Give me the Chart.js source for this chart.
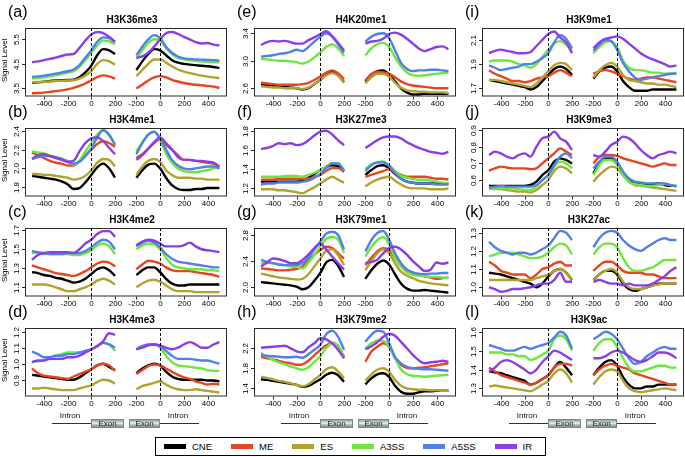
<!DOCTYPE html>
<html>
<head>
<meta charset="utf-8">
<script src="https://cdn.jsdelivr.net/npm/chart.js@4.4.0/dist/chart.umd.min.js"></script>
<style>
  body { margin: 0; background: #fff; font-family: "Liberation Sans", Arial, sans-serif; }
  #page { position: relative; width: 685px; height: 457px; overflow: hidden; }
  #page canvas { position: absolute; }
  .gline { position: absolute; height: 1px; background: #333; }
  .gtext { position: absolute; font-size: 8px; color: #111; text-align: center; }
  .exon { position: absolute; height: 9px; border: 1px solid #7a8888; box-sizing: border-box;
          background: linear-gradient(#8d9c9c, #e9f0f0 45%, #b6c4c4 65%, #7f8f8f);
          font-size: 8px; line-height: 8px; text-align: center; color: #222; }
  #legend { position: absolute; left: 155px; top: 437px; width: 391px; height: 19px;
            border: 1px solid #000; box-sizing: border-box; display: flex; align-items: center;
            padding-left: 8px; font-size: 9.5px; }
  .litem { display: flex; align-items: center; margin-right: 19px; }
  .lline { width: 22px; height: 5px; margin-right: 6px; }
</style>
</head>
<body>
<div id="page">
  <div id="legend"></div>
</div>
<script>

// Series

const seriesNames = ['CNE', 'ME', 'ES', 'A3SS', 'A5SS', 'IR'];
const seriesColors = ['#000000', '#e8441f', '#b3a32c', '#6be83c', '#5080ea', '#8b3ee8'];

// positions relative to the splice site (intron->exon on the left, exon->intron on the right)
const xLeft = [-500, -450, -400, -350, -300, -250, -200, -150, -100, -50, 0, 50, 100, 150, 200];
const xRight = [-200, -150, -100, -50, 0, 50, 100, 150, 200, 250, 300, 350, 400, 450, 500];
const xTicksLeft = [-400, -200, 0, 200];
const xTicksRight = [-200, 0, 200, 400];

const panelLabels = ['(a)', '(b)', '(c)', '(d)', '(e)', '(f)', '(g)', '(h)', '(i)', '(j)', '(k)', '(l)'];
const panelTitles = ['H3K36me3', 'H3K4me1', 'H3K4me2', 'H3K4me3', 'H4K20me1', 'H3K27me3',
                     'H3K79me1', 'H3K79me2', 'H3K9me1', 'H3K9me3', 'H3K27ac', 'H3K9ac'];
const yTicks = [
  [3.5, 4.5, 5.5], [1.8, 2.0, 2.2, 2.4], [1.1, 1.3, 1.5, 1.7], [0.9, 1.0, 1.1, 1.2],
  [2.6, 3.0, 3.4], [1.2, 1.4, 1.6, 1.8], [2.0, 2.4, 2.8], [1.4, 1.8, 2.2],
  [1.7, 1.9, 2.1], [0.6, 0.7, 0.8, 0.9], [1.0, 1.1, 1.2, 1.3], [1.3, 1.4, 1.5, 1.6]
];
const yMin = [3.17, 1.70, 1.004, 0.795, 2.48, 1.115, 1.86, 1.236, 1.632, 0.501, 0.949, 1.257];
const yMax = [5.96, 2.43, 1.723, 1.223, 3.477, 1.828, 2.907, 2.606, 2.199, 0.912, 1.326, 1.62];

// Signal level, rows in seriesNames order: 15 values on xLeft then 15 values on xRight

const H3K36me3 = [
  [3.73,3.75,3.77,3.8,3.82,3.83,3.84,3.86,3.95,4.15,4.43,4.85,5.1,5.05,4.9, 4.25,4.6,4.9,5.1,5.05,4.85,4.65,4.55,4.5,4.47,4.45,4.42,4.4,4.37,4.33],
  [3.3,3.31,3.33,3.36,3.39,3.42,3.46,3.52,3.6,3.7,3.83,3.96,4.03,3.99,3.9, 3.5,3.65,3.82,3.95,4.0,3.95,3.85,3.78,3.72,3.68,3.65,3.63,3.6,3.57,3.52],
  [3.75,3.76,3.77,3.78,3.8,3.81,3.82,3.83,3.9,4.02,4.2,4.5,4.65,4.6,4.47, 4.0,4.25,4.5,4.68,4.68,4.55,4.4,4.27,4.18,4.12,4.07,4.02,3.98,3.95,3.92],
  [3.9,3.92,3.95,3.99,4.03,4.08,4.14,4.2,4.38,4.65,4.95,5.25,5.45,5.42,5.3, 4.7,5.05,5.35,5.5,5.45,5.15,4.9,4.75,4.68,4.65,4.62,4.6,4.58,4.57,4.56],
  [3.97,3.99,4.02,4.06,4.1,4.15,4.2,4.27,4.45,4.75,5.05,5.4,5.58,5.55,5.4, 4.85,5.2,5.5,5.67,5.55,5.2,4.95,4.8,4.72,4.7,4.68,4.67,4.66,4.65,4.63],
  [4.57,4.6,4.65,4.7,4.75,4.82,4.88,4.9,5.15,5.45,5.7,5.8,5.75,5.6,5.4, 4.75,4.8,4.95,5.2,5.5,5.75,5.8,5.72,5.6,5.5,5.38,5.33,5.35,5.28,5.25]
];
const H3K4me1 = [
  [1.92,1.91,1.9,1.89,1.88,1.86,1.83,1.78,1.79,1.85,1.93,2.01,2.05,2.0,1.9, 1.9,1.98,2.04,2.05,2.0,1.9,1.82,1.78,1.77,1.77,1.78,1.78,1.79,1.79,1.79],
  [2.17,2.14,2.11,2.08,2.06,2.05,2.03,2.03,2.08,2.14,2.2,2.26,2.29,2.27,2.23, 2.11,2.15,2.21,2.27,2.31,2.25,2.2,2.14,2.09,2.09,2.08,2.07,2.06,2.05,2.02],
  [1.94,1.94,1.93,1.93,1.92,1.91,1.9,1.88,1.89,1.92,1.98,2.06,2.1,2.09,2.02, 1.93,2.02,2.08,2.1,2.07,1.98,1.93,1.9,1.9,1.9,1.89,1.89,1.88,1.88,1.88],
  [2.18,2.17,2.16,2.14,2.12,2.1,2.08,2.04,2.08,2.18,2.27,2.36,2.4,2.35,2.25, 2.18,2.28,2.36,2.39,2.3,2.16,2.06,2.0,1.97,1.96,1.96,1.97,1.98,2.0,2.01],
  [2.1,2.12,2.13,2.13,2.12,2.1,2.07,2.05,2.07,2.13,2.21,2.33,2.41,2.36,2.25, 2.15,2.27,2.36,2.39,2.32,2.2,2.09,2.03,2.0,1.99,2.0,2.01,2.02,2.02,2.0],
  [2.1,2.14,2.15,2.13,2.11,2.09,2.07,2.08,2.18,2.27,2.32,2.33,2.29,2.22,2.15, 2.09,2.14,2.21,2.28,2.33,2.27,2.2,2.12,2.09,2.09,2.08,2.08,2.07,2.06,2.02]
];
const H3K4me2 = [
  [1.26,1.25,1.23,1.22,1.2,1.19,1.17,1.15,1.16,1.19,1.24,1.29,1.31,1.28,1.22, 1.23,1.28,1.31,1.31,1.26,1.19,1.14,1.12,1.12,1.13,1.13,1.13,1.13,1.13,1.13],
  [1.33,1.31,1.29,1.27,1.25,1.24,1.23,1.22,1.24,1.27,1.31,1.35,1.37,1.36,1.32, 1.29,1.34,1.38,1.37,1.35,1.31,1.28,1.27,1.27,1.27,1.26,1.25,1.24,1.23,1.21],
  [1.13,1.13,1.13,1.12,1.1,1.08,1.06,1.06,1.08,1.1,1.13,1.17,1.19,1.17,1.13, 1.1,1.14,1.17,1.18,1.16,1.12,1.08,1.06,1.06,1.06,1.05,1.05,1.05,1.05,1.05],
  [1.46,1.46,1.45,1.45,1.45,1.45,1.45,1.44,1.44,1.46,1.49,1.54,1.56,1.53,1.45, 1.5,1.54,1.56,1.55,1.5,1.41,1.34,1.31,1.3,1.29,1.29,1.29,1.28,1.28,1.27],
  [1.48,1.47,1.46,1.45,1.45,1.45,1.46,1.46,1.46,1.48,1.52,1.57,1.6,1.58,1.5, 1.53,1.57,1.59,1.57,1.52,1.45,1.4,1.37,1.36,1.35,1.34,1.33,1.32,1.31,1.31],
  [1.39,1.44,1.46,1.47,1.47,1.47,1.47,1.46,1.5,1.56,1.6,1.66,1.69,1.69,1.63, 1.54,1.58,1.6,1.59,1.56,1.53,1.53,1.53,1.54,1.57,1.53,1.5,1.49,1.48,1.47]
];
const H3K4me3 = [
  [0.93,0.925,0.92,0.915,0.91,0.905,0.9,0.9,0.915,0.94,0.965,0.99,1.0,0.98,0.96, 0.94,0.97,0.99,1.0,0.99,0.95,0.92,0.905,0.9,0.9,0.9,0.9,0.895,0.895,0.89],
  [0.97,0.94,0.925,0.92,0.915,0.91,0.905,0.92,0.935,0.95,0.965,0.99,1.0,0.99,0.955, 0.935,0.96,0.985,0.995,0.99,0.97,0.95,0.93,0.915,0.905,0.89,0.88,0.87,0.875,0.87],
  [0.845,0.845,0.85,0.845,0.84,0.835,0.835,0.835,0.845,0.855,0.865,0.885,0.9,0.895,0.875, 0.84,0.86,0.87,0.88,0.89,0.87,0.85,0.84,0.835,0.835,0.84,0.835,0.83,0.825,0.82],
  [1.01,1.015,1.02,1.04,1.05,1.06,1.07,1.07,1.07,1.08,1.09,1.11,1.13,1.12,1.08, 1.09,1.11,1.12,1.12,1.1,1.05,1.01,0.99,0.985,0.98,0.975,0.97,0.96,0.955,0.955],
  [1.075,1.06,1.04,1.04,1.05,1.05,1.06,1.06,1.07,1.08,1.09,1.11,1.13,1.12,1.1, 1.09,1.11,1.12,1.12,1.11,1.08,1.05,1.03,1.03,1.03,1.025,1.02,1.02,1.01,1.0],
  [1.01,1.02,1.02,1.03,1.03,1.03,1.04,1.04,1.05,1.07,1.09,1.11,1.14,1.19,1.18, 1.09,1.1,1.115,1.12,1.115,1.1,1.09,1.1,1.12,1.135,1.12,1.1,1.1,1.12,1.135]
];
const H4K20me1 = [
  [2.65,2.65,2.64,2.63,2.62,2.61,2.6,2.58,2.6,2.66,2.72,2.8,2.84,2.79,2.69, 2.7,2.8,2.85,2.86,2.8,2.7,2.6,2.54,2.51,2.51,2.52,2.52,2.52,2.52,2.52],
  [2.68,2.67,2.66,2.65,2.65,2.65,2.65,2.66,2.68,2.72,2.77,2.83,2.86,2.82,2.73, 2.72,2.8,2.84,2.83,2.81,2.76,2.7,2.66,2.64,2.63,2.62,2.61,2.6,2.6,2.6],
  [2.63,2.62,2.61,2.61,2.6,2.6,2.6,2.59,2.61,2.66,2.72,2.79,2.82,2.78,2.68, 2.67,2.76,2.81,2.81,2.77,2.68,2.61,2.57,2.56,2.55,2.55,2.54,2.54,2.54,2.53],
  [3.03,3.02,3.01,3.0,3.0,2.99,2.98,2.96,2.99,3.05,3.12,3.2,3.24,3.18,3.07, 3.08,3.18,3.24,3.26,3.2,3.05,2.92,2.83,2.79,2.78,2.79,2.8,2.81,2.82,2.83],
  [3.06,3.07,3.08,3.1,3.11,3.13,3.16,3.14,3.2,3.28,3.35,3.4,3.35,3.24,3.12, 3.28,3.35,3.39,3.4,3.33,3.15,2.97,2.88,2.85,2.86,2.86,2.87,2.87,2.86,2.85],
  [3.23,3.27,3.29,3.28,3.29,3.27,3.25,3.25,3.3,3.34,3.39,3.43,3.36,3.26,3.15, 3.25,3.28,3.29,3.32,3.39,3.41,3.38,3.32,3.25,3.18,3.14,3.17,3.2,3.21,3.17]
];
const H3K27me3 = [
  [1.27,1.27,1.27,1.27,1.27,1.27,1.27,1.28,1.31,1.35,1.39,1.42,1.44,1.43,1.38, 1.34,1.39,1.43,1.44,1.41,1.35,1.3,1.27,1.26,1.25,1.25,1.25,1.25,1.25,1.25],
  [1.29,1.29,1.29,1.3,1.3,1.3,1.3,1.3,1.3,1.32,1.34,1.38,1.41,1.41,1.37, 1.32,1.34,1.36,1.38,1.4,1.37,1.34,1.32,1.32,1.32,1.32,1.31,1.3,1.3,1.29],
  [1.19,1.19,1.19,1.18,1.18,1.17,1.16,1.15,1.18,1.21,1.25,1.29,1.32,1.29,1.26, 1.22,1.26,1.29,1.31,1.32,1.28,1.24,1.21,1.2,1.2,1.2,1.19,1.19,1.19,1.2],
  [1.32,1.32,1.32,1.32,1.33,1.33,1.33,1.32,1.34,1.36,1.39,1.43,1.46,1.46,1.39, 1.4,1.45,1.47,1.48,1.44,1.38,1.33,1.31,1.3,1.29,1.29,1.28,1.27,1.26,1.25],
  [1.24,1.25,1.25,1.26,1.26,1.26,1.26,1.27,1.28,1.31,1.35,1.41,1.46,1.46,1.38, 1.38,1.44,1.47,1.47,1.43,1.36,1.3,1.27,1.26,1.25,1.25,1.25,1.24,1.24,1.24],
  [1.61,1.62,1.64,1.67,1.66,1.67,1.65,1.66,1.7,1.75,1.79,1.8,1.76,1.7,1.65, 1.62,1.66,1.7,1.73,1.74,1.74,1.72,1.68,1.65,1.62,1.6,1.58,1.57,1.56,1.58]
];
const H3K79me1 = [
  [2.08,2.07,2.06,2.05,2.04,2.03,2.01,1.97,2.0,2.1,2.22,2.38,2.42,2.33,2.16, 2.13,2.26,2.36,2.41,2.35,2.2,2.06,1.98,1.95,1.95,1.96,1.95,1.94,1.93,1.92],
  [2.29,2.28,2.27,2.26,2.26,2.27,2.28,2.32,2.41,2.5,2.57,2.62,2.6,2.52,2.44, 2.34,2.45,2.55,2.6,2.57,2.45,2.34,2.27,2.22,2.19,2.17,2.15,2.13,2.14,2.15],
  [2.21,2.19,2.17,2.15,2.14,2.13,2.12,2.13,2.2,2.32,2.44,2.56,2.58,2.49,2.34, 2.26,2.4,2.52,2.58,2.52,2.37,2.24,2.18,2.14,2.1,2.08,2.06,2.05,2.04,2.03],
  [2.37,2.37,2.37,2.35,2.34,2.32,2.31,2.29,2.38,2.5,2.63,2.74,2.77,2.73,2.53, 2.47,2.62,2.72,2.77,2.66,2.45,2.32,2.23,2.19,2.18,2.17,2.16,2.16,2.15,2.14],
  [2.42,2.39,2.37,2.35,2.34,2.34,2.34,2.37,2.45,2.58,2.7,2.82,2.85,2.8,2.58, 2.55,2.72,2.83,2.86,2.73,2.52,2.37,2.27,2.23,2.21,2.2,2.21,2.21,2.22,2.22],
  [2.32,2.38,2.44,2.43,2.4,2.37,2.37,2.42,2.5,2.6,2.67,2.58,2.47,2.37,2.27, 2.37,2.39,2.42,2.52,2.6,2.62,2.58,2.5,2.4,2.32,2.25,2.27,2.38,2.36,2.38]
];
const H3K79me2 = [
  [1.58,1.57,1.55,1.53,1.51,1.49,1.47,1.43,1.45,1.51,1.58,1.67,1.71,1.66,1.53, 1.48,1.6,1.68,1.7,1.63,1.45,1.33,1.29,1.29,1.32,1.34,1.34,1.35,1.35,1.35],
  [2.03,2.0,1.98,1.95,1.92,1.9,1.87,1.88,1.95,2.06,2.17,2.26,2.31,2.24,2.03, 1.93,2.13,2.23,2.3,2.23,2.0,1.87,1.81,1.8,1.81,1.82,1.84,1.86,1.88,1.9],
  [1.63,1.61,1.58,1.55,1.53,1.5,1.47,1.44,1.48,1.57,1.67,1.78,1.82,1.74,1.6, 1.55,1.68,1.77,1.8,1.73,1.57,1.45,1.4,1.38,1.37,1.37,1.36,1.36,1.35,1.35],
  [2.11,2.03,1.97,1.92,1.88,1.84,1.8,1.77,1.82,1.93,2.04,2.2,2.3,2.25,2.0, 2.2,2.3,2.35,2.35,2.23,2.0,1.78,1.68,1.65,1.64,1.63,1.64,1.65,1.66,1.67],
  [2.07,2.05,2.04,2.03,2.02,2.02,2.03,2.01,2.08,2.17,2.27,2.48,2.55,2.43,2.17, 2.33,2.47,2.55,2.53,2.3,2.03,1.9,1.83,1.8,1.79,1.78,1.78,1.77,1.76,1.75],
  [2.21,2.22,2.23,2.24,2.25,2.2,2.14,2.12,2.22,2.3,2.4,2.38,2.3,2.17,2.0, 2.18,2.24,2.32,2.43,2.49,2.45,2.33,2.2,2.07,1.96,1.9,1.92,1.93,1.95,1.93]
];
const H3K9me1 = [
  [1.77,1.76,1.75,1.74,1.73,1.72,1.71,1.69,1.71,1.76,1.81,1.86,1.88,1.86,1.81, 1.78,1.84,1.87,1.88,1.84,1.76,1.71,1.68,1.68,1.68,1.69,1.69,1.69,1.69,1.69],
  [1.85,1.82,1.8,1.78,1.76,1.76,1.75,1.76,1.78,1.79,1.8,1.83,1.85,1.83,1.8, 1.82,1.84,1.85,1.84,1.82,1.8,1.78,1.77,1.78,1.79,1.79,1.78,1.77,1.76,1.75],
  [1.77,1.77,1.76,1.75,1.74,1.73,1.72,1.71,1.74,1.79,1.84,1.89,1.91,1.9,1.85, 1.79,1.85,1.89,1.91,1.88,1.81,1.77,1.76,1.75,1.74,1.74,1.73,1.73,1.72,1.71],
  [1.92,1.93,1.93,1.93,1.92,1.9,1.89,1.87,1.9,1.96,2.02,2.07,2.09,2.06,2.01, 1.99,2.04,2.08,2.09,2.04,1.93,1.87,1.85,1.85,1.84,1.83,1.83,1.82,1.82,1.83],
  [1.89,1.87,1.85,1.86,1.87,1.88,1.9,1.9,1.92,1.95,1.99,2.08,2.14,2.11,2.03, 2.01,2.06,2.1,2.09,2.02,1.91,1.84,1.79,1.77,1.78,1.79,1.8,1.81,1.82,1.82],
  [1.99,2.01,2.02,2.01,2.0,1.99,1.99,2.0,2.05,2.1,2.15,2.17,2.12,2.08,1.99, 2.03,2.08,2.11,2.12,2.13,2.11,2.07,2.03,1.99,1.96,1.94,1.92,1.9,1.88,1.89]
];
const H3K9me3 = [
  [0.565,0.565,0.565,0.565,0.565,0.565,0.565,0.57,0.59,0.63,0.66,0.71,0.73,0.72,0.7, 0.64,0.7,0.73,0.73,0.7,0.64,0.6,0.585,0.58,0.575,0.575,0.58,0.57,0.565,0.565],
  [0.655,0.67,0.68,0.675,0.67,0.67,0.67,0.665,0.67,0.7,0.73,0.76,0.79,0.77,0.75, 0.7,0.74,0.75,0.75,0.745,0.73,0.72,0.71,0.7,0.69,0.68,0.69,0.7,0.69,0.69],
  [0.55,0.545,0.545,0.54,0.535,0.53,0.53,0.525,0.54,0.57,0.6,0.655,0.68,0.67,0.64, 0.59,0.63,0.66,0.68,0.67,0.63,0.59,0.57,0.565,0.56,0.555,0.55,0.545,0.54,0.535],
  [0.545,0.55,0.555,0.55,0.55,0.545,0.54,0.54,0.56,0.6,0.63,0.68,0.71,0.7,0.67, 0.63,0.69,0.72,0.72,0.69,0.63,0.59,0.575,0.57,0.565,0.565,0.57,0.575,0.57,0.565],
  [0.555,0.56,0.565,0.56,0.56,0.56,0.56,0.56,0.57,0.6,0.63,0.69,0.74,0.76,0.73, 0.67,0.71,0.74,0.74,0.71,0.65,0.61,0.59,0.585,0.58,0.58,0.58,0.58,0.57,0.56],
  [0.75,0.77,0.76,0.74,0.73,0.75,0.76,0.74,0.8,0.85,0.86,0.89,0.85,0.83,0.78, 0.75,0.74,0.77,0.81,0.83,0.86,0.85,0.82,0.78,0.75,0.73,0.75,0.76,0.77,0.76]
];
const H3K27ac = [
  [1.08,1.075,1.07,1.06,1.05,1.04,1.03,1.02,1.0,1.02,1.06,1.09,1.1,1.08,1.04, 1.04,1.07,1.09,1.09,1.07,1.02,0.99,0.98,0.99,1.0,1.01,1.02,1.02,1.02,1.02],
  [1.14,1.12,1.09,1.08,1.07,1.07,1.07,1.05,1.07,1.1,1.11,1.13,1.14,1.12,1.12, 1.09,1.12,1.14,1.14,1.12,1.09,1.08,1.08,1.08,1.07,1.07,1.06,1.05,1.05,1.05],
  [1.04,1.04,1.04,1.04,1.04,1.04,1.04,1.04,1.05,1.06,1.07,1.09,1.1,1.08,1.04, 1.04,1.07,1.09,1.1,1.08,1.03,1.0,0.99,0.99,1.0,1.01,1.015,1.02,1.02,1.02],
  [1.17,1.18,1.19,1.19,1.19,1.18,1.17,1.16,1.16,1.17,1.19,1.22,1.24,1.23,1.18, 1.18,1.22,1.24,1.24,1.22,1.16,1.11,1.09,1.09,1.1,1.11,1.13,1.15,1.15,1.15],
  [1.25,1.22,1.2,1.19,1.18,1.19,1.19,1.18,1.19,1.21,1.23,1.27,1.31,1.3,1.26, 1.22,1.27,1.3,1.31,1.3,1.26,1.23,1.21,1.2,1.22,1.24,1.26,1.27,1.26,1.26],
  [1.0,0.99,0.975,0.98,0.99,0.99,0.995,1.0,1.01,1.02,1.02,1.04,1.08,1.03,1.03, 1.03,1.04,1.03,1.02,1.02,1.01,1.02,1.01,1.01,1.01,1.02,1.04,1.06,1.09,1.11]
];
const H3K9ac = [
  [1.39,1.385,1.38,1.37,1.36,1.35,1.34,1.32,1.33,1.35,1.37,1.41,1.44,1.41,1.37, 1.37,1.41,1.44,1.45,1.42,1.36,1.32,1.3,1.3,1.31,1.31,1.32,1.32,1.32,1.32],
  [1.41,1.39,1.37,1.36,1.35,1.34,1.33,1.32,1.33,1.35,1.37,1.41,1.43,1.43,1.42, 1.37,1.4,1.42,1.43,1.42,1.41,1.4,1.38,1.37,1.36,1.35,1.34,1.33,1.32,1.32],
  [1.31,1.315,1.31,1.305,1.3,1.295,1.29,1.285,1.3,1.32,1.34,1.38,1.4,1.38,1.33, 1.32,1.36,1.39,1.4,1.39,1.34,1.3,1.285,1.28,1.285,1.29,1.295,1.3,1.295,1.29],
  [1.49,1.49,1.49,1.48,1.48,1.47,1.47,1.45,1.46,1.48,1.5,1.56,1.58,1.56,1.5, 1.5,1.54,1.56,1.56,1.52,1.46,1.41,1.39,1.39,1.4,1.41,1.42,1.42,1.41,1.41],
  [1.53,1.52,1.51,1.5,1.5,1.51,1.52,1.51,1.52,1.53,1.54,1.57,1.6,1.58,1.51, 1.56,1.58,1.6,1.59,1.56,1.51,1.46,1.43,1.44,1.47,1.49,1.51,1.52,1.51,1.51],
  [1.39,1.41,1.44,1.45,1.44,1.42,1.4,1.38,1.4,1.44,1.47,1.5,1.49,1.47,1.45, 1.46,1.46,1.47,1.49,1.5,1.49,1.47,1.45,1.44,1.45,1.47,1.49,1.49,1.48,1.46]
];

const panelData = [H3K36me3, H3K4me1, H3K4me2, H3K4me3, H4K20me1, H3K27me3,
                   H3K79me1, H3K79me2, H3K9me1, H3K9me3, H3K27ac, H3K9ac];


// Layout

const RIGHT_OFFSET = 580;          // right half is shifted along one shared x axis
const columnLeft = [0, 229, 457];
const rowTop = [0, 100, 200, 300];
const CANVAS_H = 112;
const FRAME = { left: 25, right: 227, top: 28, bottom: 96.5 };
const FONT = '"Liberation Sans", Arial, sans-serif';

function buildPoints(row){
    const pts = xLeft.map((x, k) => ({ x: x, y: row[k] }));
    pts.push({ x: (200 + RIGHT_OFFSET - 200) / 2, y: null });   // break between the halves
    xRight.forEach((x, k) => pts.push({ x: x + RIGHT_OFFSET, y: row[xLeft.length + k] }));
    return pts;
}

// frame, splice-site lines, ticks and texts, drawn R style
const panelDecor = {
    id: 'panelDecor',
    afterDatasetsDraw(chart, args, opts){
        const ctx = chart.ctx;
        const a = chart.chartArea;
        const x = chart.scales.x, y = chart.scales.y;
        ctx.save();

        ctx.strokeStyle = '#000';
        ctx.lineWidth = 1;
        ctx.setLineDash([3, 2]);
        [0, RIGHT_OFFSET].forEach(v => {
            const px = Math.round(x.getPixelForValue(v)) + 0.5;
            ctx.beginPath(); ctx.moveTo(px, a.top); ctx.lineTo(px, a.bottom); ctx.stroke();
        });
        ctx.setLineDash([]);

        ctx.strokeStyle = '#2b2b2b';
        ctx.strokeRect(a.left + 0.5, a.top + 0.5, a.right - a.left - 1, a.bottom - a.top - 1);

        // x axis
        ctx.fillStyle = '#000';
        ctx.font = '8px ' + FONT;
        ctx.textAlign = 'center';
        ctx.textBaseline = 'top';
        const xt = xTicksLeft.map(v => [v, v]).concat(xTicksRight.map(v => [v + RIGHT_OFFSET, v]));
        xt.forEach(([pos, lab]) => {
            const px = Math.round(x.getPixelForValue(pos)) + 0.5;
            ctx.beginPath(); ctx.moveTo(px, a.bottom); ctx.lineTo(px, a.bottom + 3); ctx.stroke();
            ctx.fillText(String(lab), px, a.bottom + 3.5);
        });

        // y axis, labels parallel to the axis
        ctx.textBaseline = 'middle';
        opts.ticks.forEach(v => {
            const py = Math.round(y.getPixelForValue(v)) + 0.5;
            ctx.beginPath(); ctx.moveTo(a.left, py); ctx.lineTo(a.left - 3, py); ctx.stroke();
            ctx.save();
            ctx.translate(a.left - 8.5, py);
            ctx.rotate(-Math.PI / 2);
            ctx.fillText(v.toFixed(1), 0, 0);
            ctx.restore();
        });

        if (opts.yTitle){
            ctx.save();
            ctx.translate(5, (a.top + a.bottom) / 2 - 2);
            ctx.rotate(-Math.PI / 2);
            ctx.font = '8px ' + FONT;
            ctx.fillText('Signal Level', 0, 0);
            ctx.restore();
        }

        ctx.font = 'bold 10px ' + FONT;
        ctx.fillText(opts.title, (a.left + a.right) / 2 + 6, 20);

        ctx.font = '16px ' + FONT;
        ctx.textAlign = 'left';
        ctx.fillText(opts.label, 8, 13);

        ctx.restore();
    }
};

const page = document.getElementById('page');

panelData.forEach((rows, i) => {
    const col = Math.floor(i / 4), row = i % 4;
    const w = col === 2 ? 228 : 229;

    const canvas = document.createElement('canvas');
    canvas.width = w;
    canvas.height = CANVAS_H;
    canvas.style.left = columnLeft[col] + 'px';
    canvas.style.top = rowTop[row] + 'px';
    page.appendChild(canvas);

    new Chart(canvas, {
        type: 'line',
        data: {
            datasets: rows.map((r, s) => ({
                label: seriesNames[s],
                data: buildPoints(r),
                borderColor: seriesColors[s],
                borderWidth: 2.4,
                pointRadius: 0,
                cubicInterpolationMode: 'monotone',
                spanGaps: false,
                order: seriesNames.length - s
            }))
        },
        options: {
            responsive: false,
            animation: false,
            devicePixelRatio: 1,
            layout: {
                padding: { left: FRAME.left, right: w - FRAME.right, top: FRAME.top, bottom: CANVAS_H - FRAME.bottom }
            },
            scales: {
                x: { type: 'linear', display: false, min: -559, max: 1144 },
                y: { display: false, min: yMin[i], max: yMax[i] }
            },
            plugins: {
                legend: { display: false },
                tooltip: { enabled: false },
                panelDecor: { ticks: yTicks[i], title: panelTitles[i], label: panelLabels[i], yTitle: col === 0 }
            }
        },
        plugins: [panelDecor]
    });
});


// Intron / exon sketch under each column

function addEl(cls, left, top, width, text){
    const el = document.createElement('div');
    el.className = cls;
    el.style.left = left + 'px';
    el.style.top = top + 'px';
    el.style.width = width + 'px';
    if (text) el.textContent = text;
    page.appendChild(el);
}

columnLeft.forEach(c => {
    addEl('gline', c + 52, 423, 39);
    addEl('gtext', c + 52, 411, 36, 'Intron');
    addEl('exon', c + 91, 419, 33, 'Exon');
    addEl('exon', c + 129, 419, 31, 'Exon');
    addEl('gline', c + 160, 423, 39);
    addEl('gtext', c + 160, 411, 36, 'Intron');
});


// Legend

const legend = document.getElementById('legend');
seriesNames.forEach((name, s) => {
    const item = document.createElement('div');
    item.className = 'litem';
    item.innerHTML = '<div class="lline" style="background:' + seriesColors[s] + '"></div><span>' + name + '</span>';
    legend.appendChild(item);
});

</script>
</body>
</html>
